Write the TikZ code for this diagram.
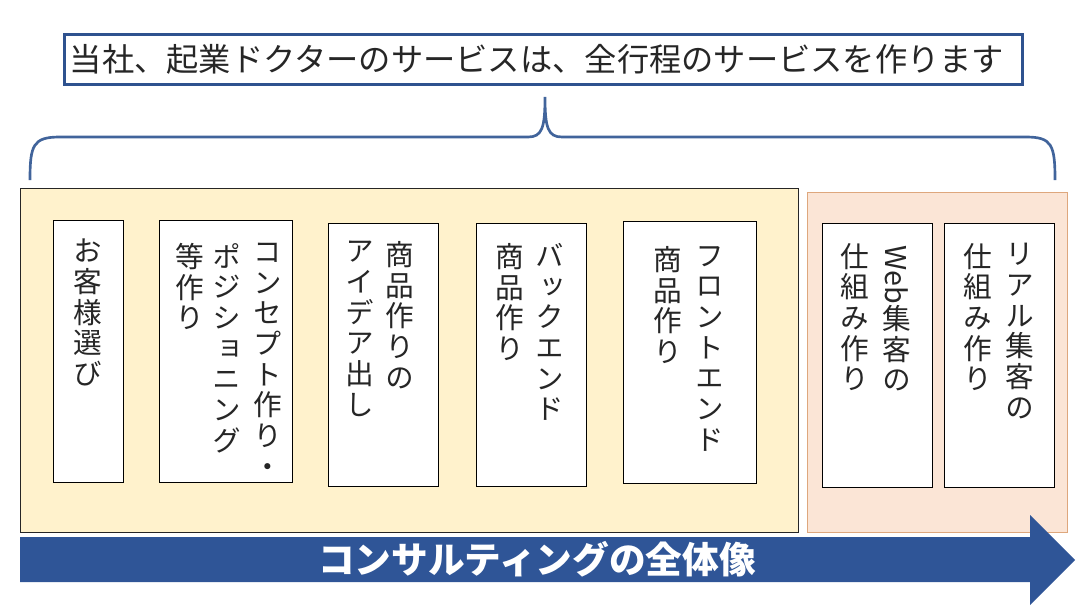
\documentclass[tikz,border=0pt]{standalone}
\usepackage{fontspec}
\setmainfont{Noto Sans CJK JP}
\newfontfamily\vfont[RawFeature=+vert]{Noto Sans CJK JP}
\definecolor{titleblue}{RGB}{47,82,143}
\definecolor{braceblue}{RGB}{65,100,155}
\definecolor{yelfill}{RGB}{255,242,204}
\definecolor{pinkfill}{RGB}{251,229,214}
\definecolor{pinkline}{RGB}{222,167,125}
\definecolor{arrowblue}{RGB}{47,85,151}
\begin{document}
\begin{tikzpicture}[x=0.75pt,y=-0.75pt,
  titlebox/.style={draw=titleblue, line width=2.25pt, fill=white, minimum width=718.5pt, minimum height=37.5pt, inner sep=0pt},
  titletext/.style={font=\fontsize{24.2}{27}\selectfont, inner sep=0pt, text=black!85},
  areabox/.style={line width=0.75pt, inner sep=0pt},
  wbox/.style={draw=black, fill=white, line width=0.75pt, inner sep=0pt},
  vcol/.style={font=\vfont\fontsize{21.5}{23}\selectfont, align=center, inner sep=0pt, anchor=north, text=black!85},
  arrowtext/.style={font=\bfseries\fontsize{27.5}{30}\selectfont, text=white, inner sep=0pt}
]
\useasboundingbox (0,0) rectangle (1092,611);

% title
\node[titlebox] (title) at (543,59) {};
\node[titletext] (titletxt) at (537,59) {当社、起業ドクターのサービスは、全行程のサービスを作ります};

% brace
\draw[braceblue, line width=2pt]
  (30,180) .. controls (30,145) and (33,137) .. (60,137) -- (528,137)
  .. controls (542,137) and (545,128) .. (545,97)
  .. controls (545,128) and (548,137) .. (562,137) -- (1026,137)
  .. controls (1052,137) and (1055,145) .. (1055,180);

% areas
\node[areabox, draw=black!85, fill=yelfill, minimum width=583.5pt, minimum height=258pt] (yarea) at (409.5,360) {};
\node[areabox, draw=pinkline, fill=pinkfill, minimum width=195pt, minimum height=255pt] (parea) at (937.5,362) {};

% white boxes
\node[wbox, minimum width=52.5pt, minimum height=196.5pt] (b1) at (88,351.5) {};
\node[wbox, minimum width=99.75pt, minimum height=196.5pt] (b2) at (225.5,351.5) {};
\node[wbox, minimum width=82.5pt, minimum height=197.25pt] (b3) at (383,354.5) {};
\node[wbox, minimum width=82.5pt, minimum height=197.25pt] (b4) at (531.5,354.5) {};
\node[wbox, minimum width=99.75pt, minimum height=196.5pt] (b5) at (689.5,352) {};
\node[wbox, minimum width=82.5pt, minimum height=198pt] (b6) at (877,355) {};
\node[wbox, minimum width=82.5pt, minimum height=198pt] (b7) at (999,355) {};

% vertical texts
\node[vcol] (t1) at (88,239) {お\\客\\様\\選\\び};
\node[vcol] (t2a) at (268,243) {コ\\ン\\セ\\プ\\ト\\作\\り\\・};
\node[vcol] (t2b) at (227,243) {ポ\\ジ\\シ\\ョ\\ニ\\ン\\グ};
\node[vcol] (t2c) at (190,243) {等\\作\\り};
\node[vcol] (t3a) at (400,241) {商\\品\\作\\り\\の};
\node[vcol] (t3b) at (360,241) {ア\\イ\\デ\\ア\\出\\し};
\node[vcol] (t4a) at (550,243) {バ\\ッ\\ク\\エ\\ン\\ド};
\node[vcol] (t4b) at (510,243) {商\\品\\作\\り};
\node[vcol] (t5a) at (710,246) {フ\\ロ\\ン\\ト\\エ\\ン\\ド};
\node[vcol] (t5b) at (668,246) {商\\品\\作\\り};
\node[vcol] (t6a) at (897,245) {\rotatebox{-90}{Web}\\集\\客\\の};
\node[vcol] (t6b) at (855,243) {仕\\組\\み\\作\\り};
\node[vcol] (t7a) at (1020,243) {リ\\ア\\ル\\集\\客\\の};
\node[vcol] (t7b) at (978,243) {仕\\組\\み\\作\\り};

% arrow
\fill[arrowblue] (20,537) -- (1030,537) -- (1030,515) -- (1075,560) -- (1030,605) -- (1030,582) -- (20,582) -- cycle;
\node[arrowtext] (arrowtxt) at (537,559) {コンサルティングの全体像};
\end{tikzpicture}
\end{document}
